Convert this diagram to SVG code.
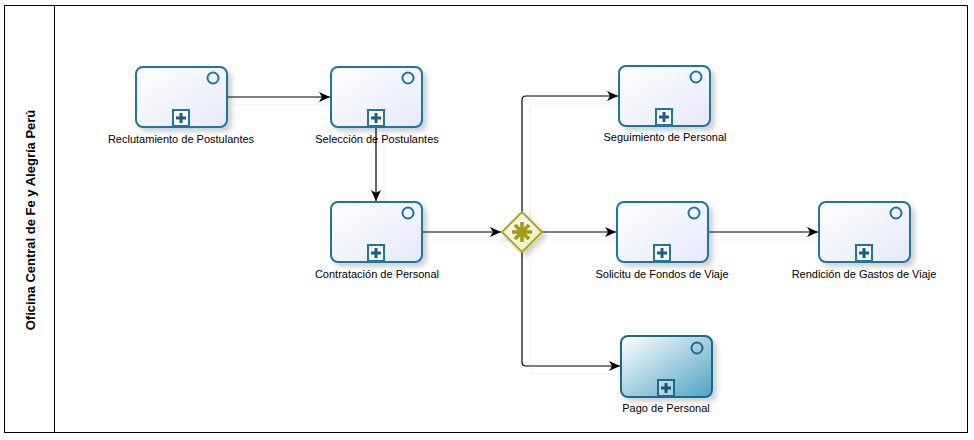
<svg xmlns="http://www.w3.org/2000/svg" width="974" height="440" viewBox="0 0 974 440">
<defs>
<linearGradient id="taskFill" x1="0" y1="0" x2="1" y2="1">
<stop offset="0" stop-color="#ffffff"/>
<stop offset="1" stop-color="#e6eafa"/>
</linearGradient>
<linearGradient id="payFill" x1="0" y1="0" x2="1" y2="1">
<stop offset="0" stop-color="#ffffff"/>
<stop offset="1" stop-color="#4fa3c2"/>
</linearGradient>
<linearGradient id="gwFill" x1="0" y1="0" x2="1" y2="1">
<stop offset="0" stop-color="#fdfdf0"/>
<stop offset="1" stop-color="#ecebc0"/>
</linearGradient>
<filter id="shadow" x="-20%" y="-20%" width="150%" height="150%">
<feDropShadow dx="4" dy="4" stdDeviation="2.5" flood-color="#000" flood-opacity="0.18"/>
</filter>
<filter id="lineShadow" x="-10%" y="-10%" width="130%" height="130%">
<feDropShadow dx="8" dy="8" stdDeviation="0.6" flood-color="#000" flood-opacity="0.05"/>
</filter>
<marker id="arrow" markerWidth="12" markerHeight="10" refX="11" refY="5" orient="auto" markerUnits="userSpaceOnUse">
<path d="M0,0 L11,5 L0,10 L3,5 Z" fill="#000"/>
</marker>
</defs>
<style>
.task{fill:url(#taskFill);stroke:#1f76a3;stroke-width:2;filter:url(#shadow)}
.pay{fill:url(#payFill);stroke:#1d6b86;stroke-width:2;filter:url(#shadow)}
.ev{fill:none;stroke:#1f76a3;stroke-width:2}
.pbox{fill:#ffffff;stroke:#1f76a3;stroke-width:2}
.plus{fill:none;stroke:#155f87;stroke-width:3}
.lbl{font-family:"Liberation Sans",Arial,sans-serif;font-size:11px;fill:#000;text-anchor:middle}
.conn{fill:none;stroke:#000;stroke-width:1.2}
</style>
<g id="pool">
<rect x="4.5" y="5.5" width="963" height="427" fill="#fff" stroke="#000" stroke-width="1"/>
<line x1="54.5" y1="5.5" x2="54.5" y2="432.5" stroke="#000" stroke-width="1"/>
<text x="30" y="220" transform="rotate(-90 30 220)" font-family="Liberation Sans,Arial,sans-serif" font-size="13" font-weight="bold" text-anchor="middle" dominant-baseline="central">Oficina Central de Fe y Alegría Perú</text>
</g>
<g id="connectors" filter="url(#lineShadow)">
<path class="conn" d="M227,97 H330" marker-end="url(#arrow)"/>
<path class="conn" d="M376,127 V201" marker-end="url(#arrow)"/>
<path class="conn" d="M422,232 H501" marker-end="url(#arrow)"/>
<path class="conn" d="M542,232 H616" marker-end="url(#arrow)"/>
<path class="conn" d="M708,232 H818" marker-end="url(#arrow)"/>
<path class="conn" d="M522,212 V100 Q522,96 526,96 H618" marker-end="url(#arrow)"/>
<path class="conn" d="M522,252 V362 Q522,366 526,366 H620" marker-end="url(#arrow)"/>
</g>
<g id="task-reclutamiento">
<rect class="task" x="136" y="67" width="91" height="60" rx="7"/>
<circle class="ev" cx="213" cy="78" r="5.5"/>
<rect class="pbox" x="173" y="110" width="16" height="16"/>
<path class="plus" d="M181,113 V123 M176,118 H186"/>
<text class="lbl" x="181" y="143">Reclutamiento de Postulantes</text>
</g>
<g id="task-seleccion">
<rect class="task" x="331" y="67" width="91" height="60" rx="7"/>
<circle class="ev" cx="408" cy="78" r="5.5"/>
<rect class="pbox" x="368" y="110" width="16" height="16"/>
<path class="plus" d="M376,113 V123 M371,118 H381"/>
<text class="lbl" x="377" y="143">Selección de Postulantes</text>
</g>
<g id="task-contratacion">
<rect class="task" x="331" y="202" width="91" height="60" rx="7"/>
<circle class="ev" cx="408" cy="213" r="5.5"/>
<rect class="pbox" x="368" y="245" width="16" height="16"/>
<path class="plus" d="M376,248 V258 M371,253 H381"/>
<text class="lbl" x="377" y="278">Contratación de Personal</text>
</g>
<g id="gateway">
<path d="M522,212 L542,232 L522,252 L502,232 Z" fill="url(#gwFill)" stroke="#aaa826" stroke-width="2" filter="url(#shadow)"/>
<path d="M522,222 V242 M512,232 H532 M515,225 L529,239 M515,239 L529,225" stroke="#9e9c18" stroke-width="3.6" fill="none"/>
</g>
<g id="task-seguimiento">
<rect class="task" x="619" y="66" width="91" height="60" rx="7"/>
<circle class="ev" cx="696" cy="77" r="5.5"/>
<rect class="pbox" x="656" y="109" width="16" height="16"/>
<path class="plus" d="M664,112 V122 M659,117 H669"/>
<text class="lbl" x="665" y="141">Seguimiento de Personal</text>
</g>
<g id="task-solicitud">
<rect class="task" x="617" y="202" width="91" height="60" rx="7"/>
<circle class="ev" cx="694" cy="213" r="5.5"/>
<rect class="pbox" x="654" y="245" width="16" height="16"/>
<path class="plus" d="M662,248 V258 M657,253 H667"/>
<text class="lbl" x="662" y="278">Solicitu de Fondos de Viaje</text>
</g>
<g id="task-rendicion">
<rect class="task" x="819" y="202" width="91" height="60" rx="7"/>
<circle class="ev" cx="896" cy="213" r="5.5"/>
<rect class="pbox" x="856" y="245" width="16" height="16"/>
<path class="plus" d="M864,248 V258 M859,253 H869"/>
<text class="lbl" x="864" y="278">Rendición de Gastos de Viaje</text>
</g>
<g id="task-pago">
<rect class="pay" x="621" y="336" width="91" height="61" rx="7"/>
<circle cx="697" cy="348" r="5.5" fill="none" stroke="#1d6b86" stroke-width="2"/>
<rect x="658" y="380" width="16" height="16" fill="#ffffff" fill-opacity="0.35" stroke="#1d6b86" stroke-width="2"/>
<path class="plus" d="M666,383 V393 M661,388 H671" style="stroke:#145a73"/>
<text class="lbl" x="666" y="412">Pago de Personal</text>
</g>
</svg>
